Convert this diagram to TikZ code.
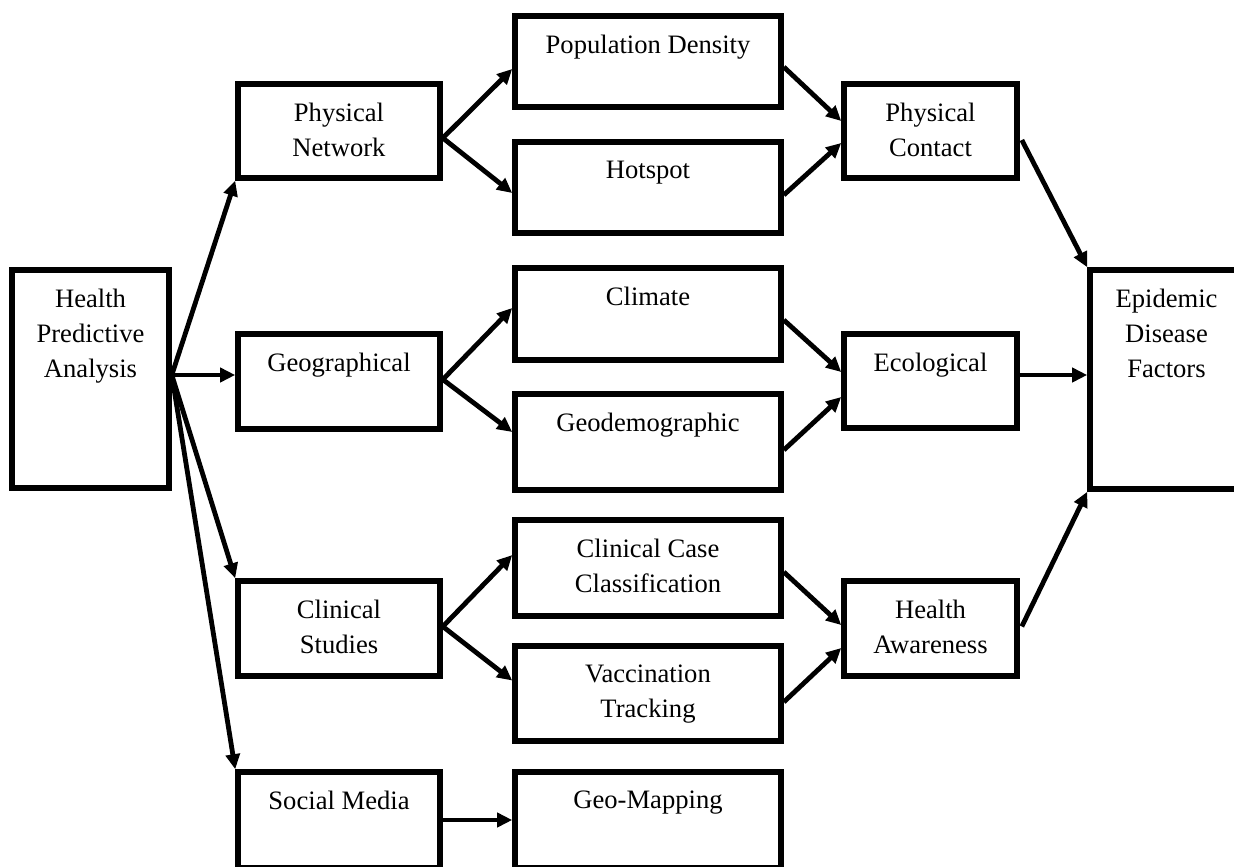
\documentclass[tikz,border=0pt]{standalone}
\usepackage{fontspec}
\setmainfont{Liberation Serif}
\usetikzlibrary{arrows.meta,calc,fit}
\newcommand\mkbox[6]{%
  \node[box,fit={(#2,#3) (#4,#5)}] (#1) {};
  \node[lbl] (#1-t) at ($(#1.north)+(0,21)$) {#6};}
\begin{document}
\begin{tikzpicture}[x=0.5pt,y=-0.5pt,
  box/.style={draw=black,line width=2.8pt,inner sep=0pt,rectangle},
  lbl/.style={anchor=north,inner sep=0pt,align=center,font=\fontsize{13.3pt}{17.5pt}\selectfont},
  arr/.style={line width=2.4pt,-{Triangle[length=7.5pt,width=7pt]}}]
\useasboundingbox (0,0) rectangle (1234,866);
\clip (0,0) rectangle (1234,866);
% boxes
\mkbox{hpa}{12}{270}{169}{488}{Health\\Predictive\\Analysis}
\mkbox{pn}{238}{84}{440}{178}{Physical\\Network}
\mkbox{geo}{238}{334}{440}{429}{Geographical}
\mkbox{cs}{238}{581}{440}{676}{Clinical\\Studies}
\mkbox{sm}{238}{772}{440}{868}{Social Media}
\mkbox{pd}{515}{16}{781}{107}{Population Density}
\mkbox{hot}{515}{142}{781}{233}{Hotspot}
\mkbox{cli}{515}{268}{781}{360}{Climate}
\mkbox{gdm}{515}{394}{781}{490}{Geodemographic}
\mkbox{ccc}{515}{520}{781}{616}{Clinical Case\\Classification}
\mkbox{vt}{515}{646}{781}{741}{Vaccination\\Tracking}
\mkbox{gm}{515}{772}{781}{868}{Geo-Mapping}
\mkbox{pc}{844}{84}{1017}{178}{Physical\\Contact}
\mkbox{eco}{844}{334}{1017}{428}{Ecological}
\mkbox{ha}{844}{581}{1017}{676}{Health\\Awareness}
\mkbox{edf}{1090}{270}{1243}{489}{Epidemic\\Disease\\Factors}
% connectors
\coordinate (hpaout) at ($(hpa.east)+(0,-4)$);
\draw[arr] (hpaout) -- (pn.south west);
\draw[arr] (hpaout) -- (hpaout -| geo.west);
\draw[arr] (hpaout) -- (cs.north west);
\draw[arr] (hpaout) -- (sm.north west);
\coordinate (pnout) at ($(pn.east)+(0,7)$);
\draw[arr] (pnout) -- ($(pd.west)+(0,7.5)$);
\draw[arr] (pnout) -- ($(hot.west)+(0,5.5)$);
\coordinate (geoout) at ($(geo.east)+(0,-2)$);
\draw[arr] (geoout) -- ($(cli.west)+(0,-6)$);
\draw[arr] (geoout) -- ($(gdm.west)+(0,-10)$);
\coordinate (csout) at ($(cs.east)+(0,-2)$);
\draw[arr] (csout) -- ($(ccc.west)+(0,-13)$);
\draw[arr] (csout) -- ($(vt.west)+(0,-13)$);
\draw[arr] (sm.east) -- (gm.west);
\draw[arr] ($(pd.east)+(0,5.5)$) -- ($(pc.west)+(0,-10)$);
\draw[arr] ($(hot.east)+(0,7.5)$) -- ($(pc.west)+(0,12)$);
\draw[arr] ($(cli.east)+(0,6)$) -- ($(eco.west)+(0,-9)$);
\draw[arr] ($(gdm.east)+(0,8)$) -- ($(eco.west)+(0,16)$);
\draw[arr] ($(ccc.east)+(0,4)$) -- ($(ha.west)+(0,-3.5)$);
\draw[arr] ($(vt.east)+(0,8.5)$) -- ($(ha.west)+(0,19.5)$);
\draw[arr] ($(pc.east)+(2,9)$) -- (edf.north west);
\coordinate (ecoout) at ($(eco.east)+(0,-6)$);
\draw[arr] (ecoout) -- (ecoout -| edf.west);
\draw[arr] ($(ha.east)+(2,-2)$) -- (edf.south west);
\end{tikzpicture}
\end{document}
